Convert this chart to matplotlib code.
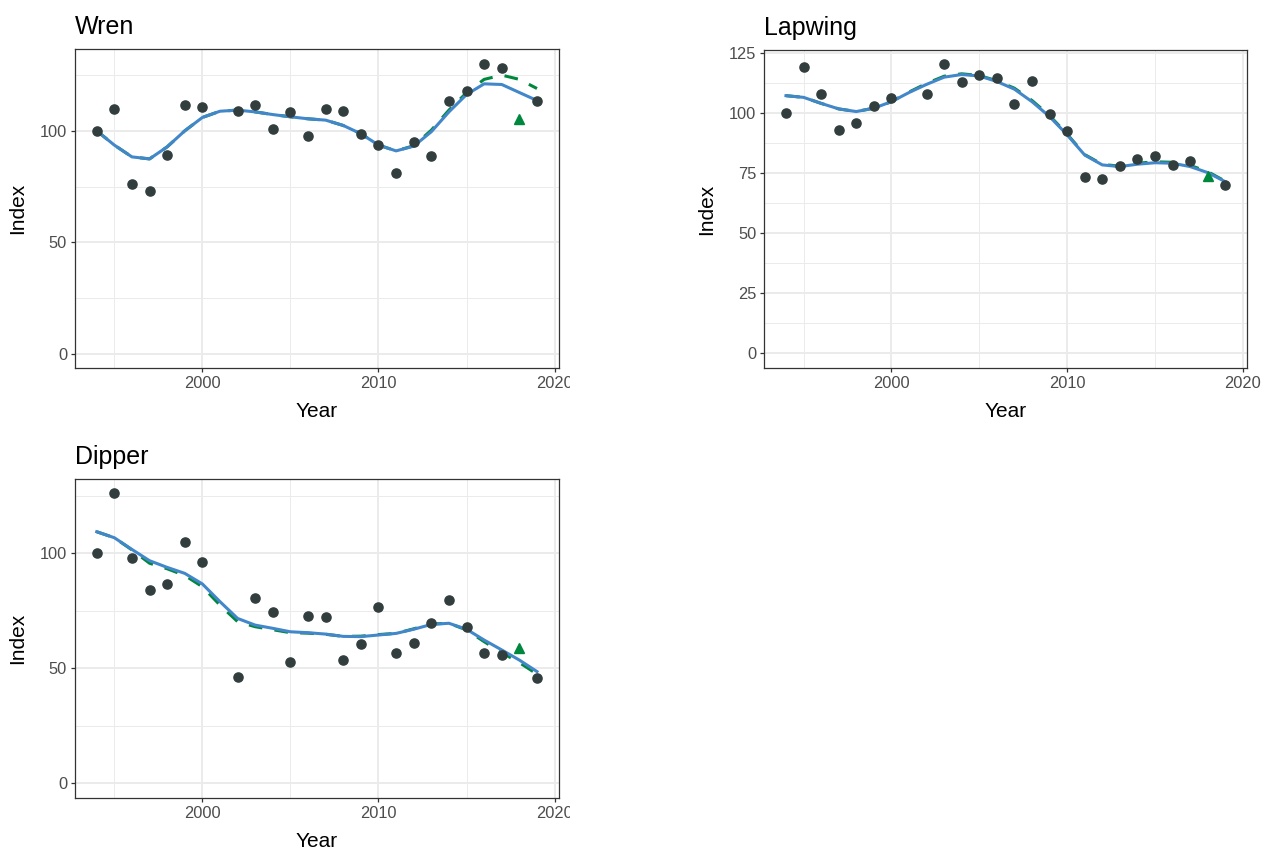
import numpy as np
import matplotlib
matplotlib.use("Agg")
import matplotlib.pyplot as plt
from matplotlib.patches import Rectangle

plt.rcParams["font.family"] = ["Liberation Sans", "DejaVu Sans"]

nan = np.nan
years = list(range(1994, 2020))
imputed_year = 2018

# observed index values (2001 and 2018 have no survey value)
wren_obs = [100, 110.0, 76.2, 73.2, 89.2, 111.4, 110.9, nan, 108.8, 111.4, 100.6, 108.5, 97.8,
            109.9, 109.0, 98.8, 93.7, 81.1, 95.2, 88.6, 113.6, 118.0, 129.9, 128.3, nan, 113.6]
wren_imputed = 105.5
wren_smooth = [100, 93.6, 88.3, 87.4, 92.8, 100, 106.0, 108.8, 109.3, 108.5, 107.3, 106.3, 105.4,
               104.8, 102.4, 98.7, 93.6, 91.0, 93.1, 99.6, 108.5, 116.3, 121.1, 120.8, 117.2, 113.6]
wren_smooth_alt = [100, 93.6, 88.3, 87.4, 92.8, 100, 106.0, 108.8, 109.3, 108.5, 107.3, 106.3, 105.4,
                   104.8, 102.4, 98.7, 93.6, 91.0, 93.3, 100.3, 109.3, 117.1, 123.1, 125.0, 123.1, 119.0]

lapwing_obs = [100, 119.0, 107.8, 92.8, 95.9, 102.8, 106.1, nan, 108.1, 120.4, 112.9, 115.7, 114.7,
               103.6, 113.5, 99.6, 92.5, 73.5, 72.7, 77.8, 81.0, 82.0, 78.4, 80.2, nan, 69.9]
lapwing_imputed = 73.8
lapwing_smooth = [107.2, 106.5, 104.0, 101.7, 100.6, 102.0, 104.7, 108.5, 111.9, 114.9, 116.0, 115.4, 113.1,
                  109.9, 104.7, 98.5, 90.9, 82.5, 78.4, 77.7, 78.7, 79.3, 79.1, 77.7, 75.2, 71.4]
lapwing_smooth_alt = [107.2, 106.5, 104.0, 101.7, 100.6, 102.0, 104.7, 108.7, 112.3, 115.3, 116.3, 115.6, 113.4,
                      110.3, 105.2, 98.9, 91.2, 82.7, 78.6, 77.9, 79.1, 79.7, 79.5, 78.2, 75.6, 71.6]

dipper_obs = [100, 126.1, 98.0, 84.1, 86.5, 104.9, 96.1, nan, 46.2, 80.7, 74.5, 52.6, 72.9,
              72.5, 53.5, 60.6, 76.5, 56.7, 61.0, 69.7, 79.7, 68.0, 56.5, 55.8, nan, 45.7]
dipper_imputed = 59.0
dipper_smooth = [109.4, 106.8, 101.7, 96.8, 93.9, 91.3, 86.7, 79.0, 71.7, 68.8, 67.4, 65.9, 65.5,
                 64.9, 63.9, 63.8, 64.5, 65.2, 67.0, 69.1, 69.6, 67.0, 62.3, 58.0, 53.6, 48.6]
dipper_smooth_alt = [109.4, 106.8, 101.5, 95.7, 93.3, 90.4, 85.5, 77.5, 70.3, 68.1, 66.8, 65.5, 65.3,
                     64.8, 63.9, 64.0, 64.7, 65.2, 67.2, 69.3, 69.6, 66.7, 61.6, 56.8, 52.5, 47.5]

x_major = [2000, 2010, 2020]
x_minor = [1995, 2005, 2015]

W, H = 1261, 849
POINT_COL = "#323d3d"
BLUE = "#4287c9"
GREEN = "#00873e"


def px_rect(x0, y0, x1, y1):
    # pixel box (top-left origin) -> figure fraction [l, b, w, h]
    return [x0 / W, 1 - y1 / H, (x1 - x0) / W, (y1 - y0) / H]


def draw_panel(ax, title, obs, imputed, smooth, smooth_alt, ylim, yticks, yminor):
    ax.plot(years, smooth_alt, color=GREEN, lw=2.2, dashes=(4.5, 4), zorder=2)
    ax.plot(years, smooth, color=BLUE, lw=2.2, zorder=3)
    ax.plot(years, obs, "o", color=POINT_COL, ms=6.6, zorder=4)
    ax.plot([imputed_year], [imputed], "^", color=GREEN, ms=7.5, zorder=5)

    ax.set_xlim(1992.75, 2020.25)
    ax.set_ylim(*ylim)
    ax.set_xticks(x_major)
    ax.set_xticks(x_minor, minor=True)
    ax.set_yticks(yticks)
    ax.set_yticks(yminor, minor=True)
    ax.grid(which="major", color="#ebebeb", lw=1.4)
    ax.grid(which="minor", color="#ebebeb", lw=0.7)
    ax.set_axisbelow(True)

    for s in ax.spines.values():
        s.set_color("#333333")
        s.set_linewidth(0.9)
    ax.tick_params(which="major", length=3, width=0.9, color="#333333",
                   labelcolor="#4d4d4d", labelsize=11.8, pad=2.5)
    ax.tick_params(which="minor", length=0)

    ax.set_title(title, loc="left", fontsize=18, pad=11)
    ax.set_xlabel("Year", fontsize=15, labelpad=8)
    ax.set_ylabel("Index", fontsize=15, labelpad=9)


fig = plt.figure(figsize=(W / 100, H / 100), dpi=100)

ax1 = fig.add_axes(px_rect(74.7, 49.3, 559, 368.3))
draw_panel(ax1, "Wren", wren_obs, wren_imputed, wren_smooth, wren_smooth_alt,
           (-6.6, 136.6), [0, 50, 100], [25, 75, 125])

ax2 = fig.add_axes(px_rect(764, 50, 1247.3, 368.3))
draw_panel(ax2, "Lapwing", lapwing_obs, lapwing_imputed, lapwing_smooth, lapwing_smooth_alt,
           (-6.2, 126.2), [0, 25, 50, 75, 100, 125], [12.5, 37.5, 62.5, 87.5, 112.5])

ax3 = fig.add_axes(px_rect(74.7, 479.3, 559, 798.3))
draw_panel(ax3, "Dipper", dipper_obs, dipper_imputed, dipper_smooth, dipper_smooth_alt,
           (-6.5, 132.2), [0, 50, 100], [25, 75, 125])

# the last x label is cut at the panel edge in the left column
for y0 in (370, 800):
    fig.patches.append(Rectangle(((569.5) / W, 1 - (y0 + 25) / H), 30 / W, 25 / H,
                                 transform=fig.transFigure, facecolor="white",
                                 edgecolor="none", zorder=10))

fig.savefig("out.png", dpi=100)
